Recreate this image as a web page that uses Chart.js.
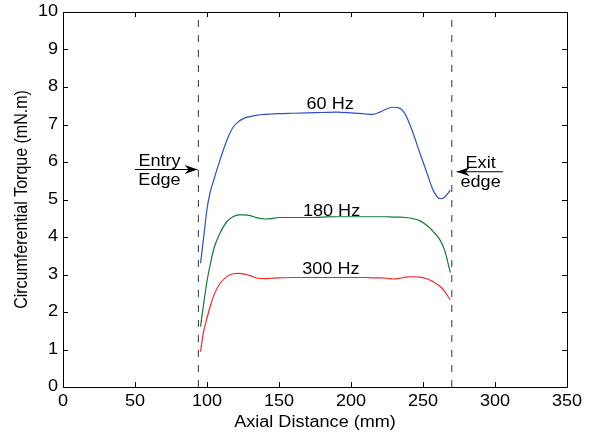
<!DOCTYPE html>
<html>
<head>
<meta charset="utf-8">
<script src="https://cdn.jsdelivr.net/npm/chart.js@4"></script>
<style>
  html, body { margin: 0; padding: 0; background: #fff; }
  canvas { display: block; }
</style>
</head>
<body>
<canvas id="torqueChart" width="591" height="437"></canvas>
<script>
// axial positions (mm) where the torque was sampled
const axialPos = [95.5, 97.5, 100, 102, 105, 109, 114, 118, 122, 126, 130, 135, 140, 145, 150,
  160, 170, 180, 190, 200, 210, 215, 220, 225, 229, 234, 238, 243, 248, 253, 257, 262, 265, 269];

// circumferential torque (mN.m) per frequency
const torque60 = [3.30, 3.93, 4.74, 5.16, 5.56, 6.05, 6.60, 6.92, 7.08, 7.17, 7.21, 7.25, 7.27, 7.28, 7.29,
  7.30, 7.31, 7.32, 7.33, 7.31, 7.28, 7.27, 7.33, 7.42, 7.46, 7.43, 7.25, 6.78, 6.22, 5.68, 5.25, 5.02, 5.06, 5.25];
const torque180 = [1.61, 2.17, 2.82, 3.22, 3.72, 4.10, 4.42, 4.54, 4.59, 4.59, 4.57, 4.51, 4.48, 4.49, 4.52,
  4.52, 4.52, 4.53, 4.54, 4.54, 4.54, 4.54, 4.54, 4.54, 4.53, 4.53, 4.52, 4.49, 4.43, 4.30, 4.15, 3.91, 3.65, 3.05];
const torque300 = [0.94, 1.45, 1.84, 2.12, 2.47, 2.76, 2.95, 3.02, 3.03, 3.01, 2.97, 2.90, 2.89, 2.90, 2.91,
  2.92, 2.92, 2.92, 2.92, 2.92, 2.92, 2.91, 2.91, 2.90, 2.88, 2.90, 2.93, 2.94, 2.93, 2.88, 2.81, 2.68, 2.55, 2.32];

// rotor entry / exit edges (mm)
const edges = [94, 270];

const xTicks = [0, 50, 100, 150, 200, 250, 300, 350];
const yTicks = [0, 1, 2, 3, 4, 5, 6, 7, 8, 9, 10];

// curve labels: [text, x (mm), y (mN.m)]
const curveLabels = [
  ['60 Hz', 185.5, 7.52],
  ['180 Hz', 186.5, 4.67],
  ['300 Hz', 186, 3.14]
];

// edge notes: [top text, bottom text, text x, bar start x, bar end x, bar y, arrow side]
const edgeNotes = [
  ['Entry', 'Edge', 67, 50, 93.5, 5.80, 'right'],
  ['Exit', 'edge', 290, 305.6, 273.4, 5.74, 'left']
];

const FONT = '16px "Liberation Sans", Arial, sans-serif';
const STRETCH = 1.13; // text is a little wide compared to its height

const pts = vals => vals.map((v, i) => ({ x: axialPos[i], y: v }));

function curve(label, vals, color) {
  return {
    label,
    data: pts(vals),
    borderColor: color,
    borderWidth: 1.2,
    pointRadius: 0,
    showLine: true,
    cubicInterpolationMode: 'monotone',
    fill: false
  };
}

function edgeLine(x) {
  return {
    label: 'edge ' + x,
    data: [{ x, y: 0 }, { x, y: 10 }],
    borderColor: '#333',
    borderWidth: 1,
    borderDash: [7, 8],
    pointRadius: 0,
    showLine: true
  };
}

function text(ctx, str, x, y, align, rotate) {
  ctx.save();
  ctx.translate(x, y);
  ctx.scale(STRETCH, 1);
  if (rotate) ctx.rotate(-Math.PI / 2);
  ctx.textAlign = align || 'center';
  ctx.textBaseline = 'middle';
  ctx.fillText(str, 0, 0);
  ctx.restore();
}

// MATLAB style box with inward ticks, axis text and the notes
const decorations = {
  id: 'decorations',
  afterDatasetsDraw(chart) {
    const { ctx, chartArea: a, scales: { x, y } } = chart;
    ctx.save();
    ctx.strokeStyle = '#000';
    ctx.lineWidth = 1;
    ctx.beginPath();
    ctx.rect(Math.round(a.left) + 0.5, Math.round(a.top) + 0.5,
      Math.round(a.right - a.left), Math.round(a.bottom - a.top));
    const tl = 5;
    xTicks.forEach(t => {
      const px = Math.round(x.getPixelForValue(t)) + 0.5;
      ctx.moveTo(px, a.bottom); ctx.lineTo(px, a.bottom - tl);
      ctx.moveTo(px, a.top); ctx.lineTo(px, a.top + tl);
    });
    yTicks.forEach(t => {
      const py = Math.round(y.getPixelForValue(t)) + 0.5;
      ctx.moveTo(a.left, py); ctx.lineTo(a.left + tl, py);
      ctx.moveTo(a.right, py); ctx.lineTo(a.right - tl, py);
    });
    ctx.stroke();

    ctx.fillStyle = '#000';
    ctx.font = FONT;

    // tick labels and axis titles
    xTicks.forEach(t => text(ctx, String(t), x.getPixelForValue(t), a.bottom + 15));
    yTicks.forEach(t => text(ctx, String(t), a.left - 5, y.getPixelForValue(t), 'right'));
    text(ctx, 'Axial Distance (mm)', (a.left + a.right) / 2, a.bottom + 36);
    text(ctx, 'Circumferential Torque (mN.m)', 22, (a.top + a.bottom) / 2, 'center', true);

    curveLabels.forEach(([txt, vx, vy]) => {
      text(ctx, txt, x.getPixelForValue(vx), y.getPixelForValue(vy));
    });

    edgeNotes.forEach(([top, bottom, tx, x0, x1, vy, side]) => {
      const px = x.getPixelForValue(tx);
      const py = y.getPixelForValue(vy);
      text(ctx, top, px, py - 8);
      text(ctx, bottom, px, py + 11);
      const sx = x.getPixelForValue(x0);
      const ex = x.getPixelForValue(x1);
      ctx.beginPath();
      ctx.moveTo(sx, py); ctx.lineTo(ex, py);
      ctx.stroke();
      // arrow head
      const dir = side === 'right' ? 1 : -1;
      ctx.beginPath();
      ctx.moveTo(ex, py);
      ctx.lineTo(ex - dir * 13, py - 4.5);
      ctx.lineTo(ex - dir * 9, py);
      ctx.lineTo(ex - dir * 13, py + 4.5);
      ctx.closePath();
      ctx.fill();
    });
    ctx.restore();
  }
};

new Chart('torqueChart', {
  type: 'scatter',
  data: {
    datasets: [
      curve('60 Hz', torque60, '#2f4fc4'),
      curve('180 Hz', torque180, '#157a35'),
      curve('300 Hz', torque300, '#f02a2a'),
      edgeLine(edges[0]),
      edgeLine(edges[1])
    ]
  },
  options: {
    responsive: false,
    devicePixelRatio: 1,
    animation: false,
    layout: { padding: { top: 12, right: 24, left: 0, bottom: 0 } },
    plugins: { legend: { display: false }, tooltip: { enabled: false } },
    scales: {
      x: {
        type: 'linear',
        min: 0,
        max: 350,
        afterFit: s => { s.height = 50; },
        grid: { display: false },
        border: { display: false },
        ticks: { display: false }
      },
      y: {
        type: 'linear',
        min: 0,
        max: 10,
        afterFit: s => { s.width = 63; },
        grid: { display: false },
        border: { display: false },
        ticks: { display: false }
      }
    }
  },
  plugins: [decorations]
});
</script>
</body>
</html>
